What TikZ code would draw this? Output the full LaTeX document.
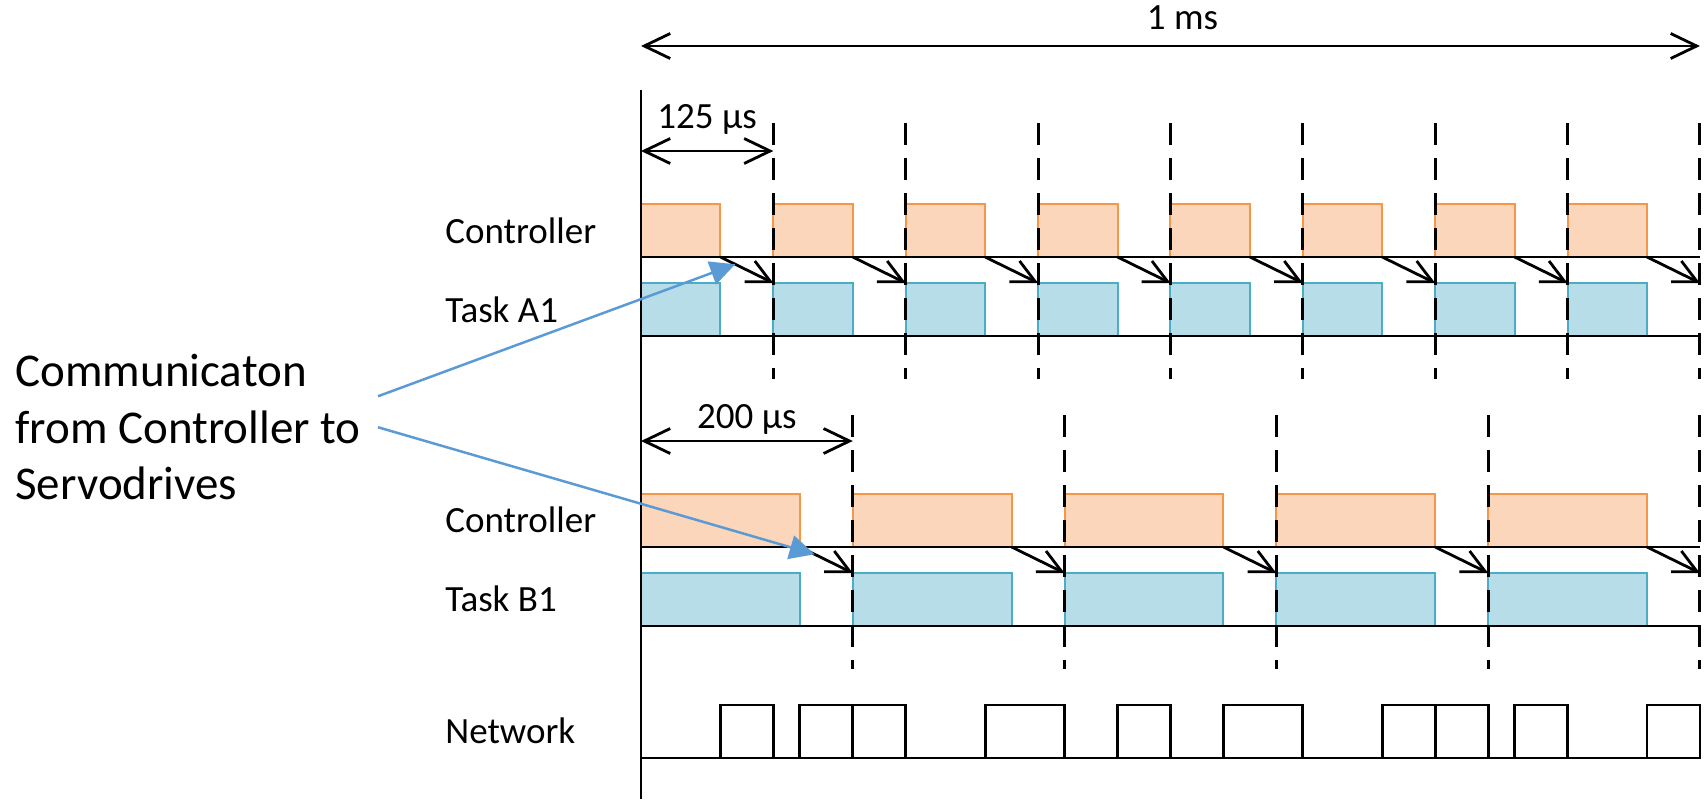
\documentclass[tikz,border=0pt]{standalone}
\usepackage{fontspec}
\setmainfont{Carlito}
\usepackage{tikz}
\usetikzlibrary{arrows.meta}
\usetikzlibrary{positioning}

\definecolor{ctrlfill}{HTML}{FBD6BA}
\definecolor{ctrldraw}{HTML}{F79646}
\definecolor{taskfill}{HTML}{B7DDE8}
\definecolor{taskdraw}{HTML}{4BACC6}
\definecolor{notecol}{HTML}{5B9BD5}

\tikzset{
    bar/.style={minimum width=#1*0.52945pt, minimum height=26.5pt, inner sep=0pt,
        outer sep=0pt, anchor=south west, line width=1pt},
    ctrl/.style={bar=#1, draw=ctrldraw, fill=ctrlfill},
    task/.style={bar=#1, draw=taskdraw, fill=taskfill},
    frame/.style={bar=#1, draw=black, line width=1.4pt},
    timeline/.style={line width=1.4pt},
    tick/.style={line width=1.5pt, dash pattern=on 11pt off 6.5pt},
    flow/.style={line width=1.4pt, -{Straight Barb[length=11.6pt, width=11.6pt]}},
    span/.style={line width=1.4pt,
        {Straight Barb[length=13pt, width=12.5pt]}-{Straight Barb[length=13pt, width=12.5pt]}},
    lbl/.style={font=\fontsize{18.5}{22}\selectfont, inner sep=0pt, anchor=base west},
    dimlbl/.style={font=\fontsize{18.5}{22}\selectfont, inner sep=0pt, anchor=base},
    note/.style={font=\fontsize{23.5}{28.25}\selectfont, align=left, inner sep=0pt,
        anchor=north west},
    pointer/.style={draw=notecol, line width=1.25pt, -{Triangle[length=12.5pt, width=12pt]}},
}

\begin{document}
\begin{tikzpicture}[x=0.5pt, y=-0.5pt]
    \useasboundingbox (0,0) rectangle (1707,799);

    % Row labels
    \node[lbl] (lctrlA) at (445,243) {Controller};
    \node[lbl] (ltaskA) at (445,322) {Task A1};
    \node[lbl] (lctrlB) at (445,532) {Controller};
    \node[lbl] (ltaskB) at (445,611) {Task B1};
    \node[lbl] (lnet) at (445,743) {Network};

    \node[note] (note) at (15,354) {Communicaton\\from Controller to\\Servodrives};

    \begin{scope}[shift={(641,0)}, x=0.52945pt]
        % Task A1: 125 us cycle
        \foreach \i in {0,...,7} {
            \node[ctrl=75] (cA\i) at ({125*\i},257) {};
            \node[task=75] (tA\i) at ({125*\i},336) {};
        }
        % Task B1: 200 us cycle
        \foreach \i in {0,...,4} {
            \node[ctrl=150] (cB\i) at ({200*\i},547) {};
            \node[task=150] (tB\i) at ({200*\i},626) {};
        }
        % Network frames
        \foreach \s/\d [count=\k] in {75/50, 150/50, 200/50, 325/75, 450/50,
                550/75, 700/50, 750/50, 825/50, 950/50}
            \node[frame=\d] (net\k) at (\s,758) {};

        \foreach \y in {257,336,547,626,758}
            \draw[timeline] (0,\y) -- (1000,\y);
        \draw[timeline] (0,90) -- (0,799);

        \foreach \t in {125,250,...,1000}
            \draw[tick] (\t,123) -- (\t,379);
        \foreach \t in {200,400,...,1000}
            \draw[tick] (\t,415) -- (\t,669);

        % Connect the nodes
        \foreach \j in {1,...,8} \coordinate (sA\j) at ({125*\j},283);
        \foreach \j in {1,...,5} \coordinate (sB\j) at ({200*\j},573);
        \foreach \i [count=\j] in {0,...,7}
            \draw[flow] (cA\i.south east) -- coordinate[pos=.28] (hitA\i) (sA\j);
        \foreach \i [count=\j] in {0,...,4}
            \draw[flow] (cB\i.south east) -- coordinate[pos=.28] (hitB\i) (sB\j);

        % Periods
        \draw[span] (0,46) -- node[dimlbl, yshift=8.5pt, xshift=6pt] (tms) {1 ms} (1000,46);
        \draw[span] (0,151) -- node[dimlbl, yshift=11.5pt] (tA) {125 µs} (125,151);
        \draw[span] (0,441) -- node[dimlbl, yshift=6.5pt] (tB) {200 µs} (200,441);
    \end{scope}

    \coordinate (fromA) at ([xshift=8.5pt, yshift=15.5pt]note.east);
    \coordinate (fromB) at ([xshift=8.5pt]note.east);
    \draw[pointer] (fromA) -- (hitA0);
    \draw[pointer] (fromB) -- (hitB0);
\end{tikzpicture}
\end{document}
